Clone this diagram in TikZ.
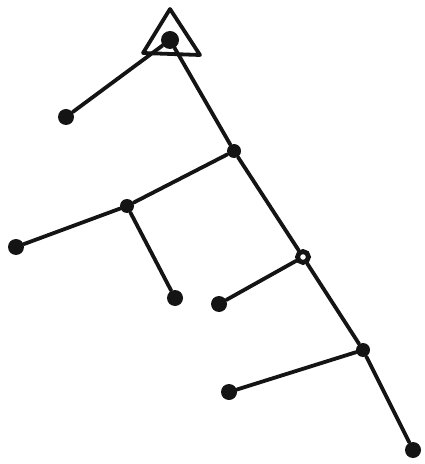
\documentclass[tikz,border=0pt]{standalone}
\usepackage{tikz}
\usetikzlibrary{calc,positioning}
\definecolor{InkBlack}{HTML}{141414}

\begin{document}
\begin{tikzpicture}[x=0.5pt,y=-0.5pt,
    leaf/.style={circle,fill=InkBlack,inner sep=0pt,minimum size=8pt},
    knot/.style={circle,fill=InkBlack,inner sep=0pt,minimum size=7pt},
    ring/.style={circle,draw=InkBlack,line width=2.4pt,fill=white,inner sep=0pt,minimum size=5.5pt},
    edge/.style={InkBlack,line width=1.9pt,line cap=round}]
  \useasboundingbox (0,0) rectangle (424,464);
  % root with its triangle
  \node[knot,minimum size=9pt] (root) at (170,40) {};
  \coordinate (apex) at (170,9);
  \coordinate (baseL) at (143,53);
  \coordinate (baseR) at (200,55);
  \draw[edge,line join=round] (baseL) -- (apex) -- (baseR) -- (baseL);
  % inner nodes
  \node[knot] (n1) at (234,151) {};
  \node[knot] (n2) at (127,206) {};
  \node[ring] (n3) at (303,257) {};
  \node[knot] (n4) at (363,350) {};
  % leaves
  \node[leaf] (la) at (66,117) {};
  \node[leaf] (lb) at (16,247) {};
  \node[leaf] (lc) at (175,298) {};
  \node[leaf] (ld) at (219,304) {};
  \node[leaf] (le) at (229,392) {};
  \node[leaf] (lf) at (413,450) {};
  % branches
  \draw[edge] (root) -- (la);
  \draw[edge] (root) -- (n1);
  \draw[edge] (n1) -- (n2);
  \draw[edge] (n2) -- (lb);
  \draw[edge] (n2) -- (lc);
  \draw[edge] (n1) -- (n3);
  \draw[edge] (n3) -- (ld);
  \draw[edge] (n3) -- (n4);
  \draw[edge] (n4) -- (le);
  \draw[edge] (n4) -- (lf);
\end{tikzpicture}
\end{document}
